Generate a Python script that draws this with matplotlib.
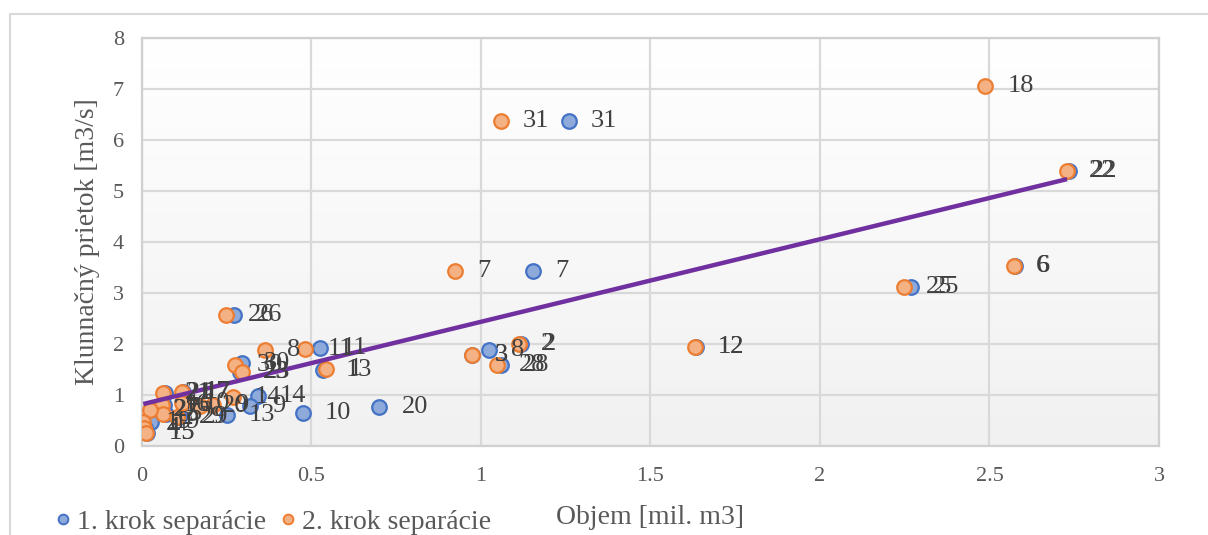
import numpy as np
import matplotlib.pyplot as plt
from matplotlib.colors import LinearSegmentedColormap
from matplotlib.lines import Line2D
from matplotlib.patches import Rectangle

plt.rcParams['font.family'] = ['Liberation Serif', 'DejaVu Serif']

# event ids and peak flows, volumes from the two separation steps
lab1 = ['26', '31', '7', '22', '6', '25', '12', '2', '28', '3', '8', '11', '13',
        '30', '23', '14', '9', '13', '10', '20', '21', '17', '16', '5', '29', '27',
        '19', '4', '15']
vol1 = [0.271, 1.259, 1.153, 2.735, 2.575, 2.268, 1.633, 1.118, 1.058, 0.974,
        1.024, 0.524, 0.535, 0.294, 0.290, 0.341, 0.318, 0.250, 0.474, 0.700, 0.068,
        0.120, 0.065, 0.070, 0.110, 0.030, 0.028, 0.008, 0.014]
q1 = [2.57, 6.37, 3.43, 5.39, 3.53, 3.12, 1.94, 2.00, 1.59, 1.78, 1.88, 1.92,
      1.48, 1.63, 1.45, 0.98, 0.79, 0.61, 0.65, 0.76, 1.04, 1.06, 0.80, 0.62, 0.57,
      0.71, 0.47, 0.35, 0.26]

lab2 = ['26', '31', '7', '18', '22', '6', '25', '12', '2', '28', '3', '8', '11', '1',
        '30', '23', '14', '9', '21', '17', '16', '5', '10', '29', '20', '27', '19',
        '4', '15']
vol2 = [0.247, 1.059, 0.924, 2.488, 2.729, 2.571, 2.247, 1.632, 1.112, 1.047, 0.974,
        0.362, 0.482, 0.544, 0.274, 0.294, 0.268, 0.209, 0.062, 0.118, 0.059, 0.062,
        0.118, 0.103, 0.170, 0.025, 0.004, 0.006, 0.012]
q2 = [2.57, 6.37, 3.43, 7.06, 5.39, 3.53, 3.12, 1.94, 2.00, 1.59, 1.78, 1.88, 1.90,
      1.51, 1.59, 1.45, 0.96, 0.80, 1.04, 1.06, 0.80, 0.62, 0.84, 0.57, 0.78, 0.71,
      0.47, 0.35, 0.26]

fig = plt.figure(figsize=(12.08, 5.35), dpi=100)
ax = fig.add_axes([0.1175, 0.1664, 0.8419, 0.7626])

# plot area: white at the top fading to light gray
grad = np.linspace(1, 0, 256).reshape(-1, 1)
cm = LinearSegmentedColormap.from_list('bg', ['#f1f1f1', '#ffffff'])
ax.imshow(grad, extent=[0, 1, 0, 1], transform=ax.transAxes, aspect='auto',
          cmap=cm, zorder=0)

ax.set_xlim(0, 3)
ax.set_ylim(0, 8)
ax.set_xticks(np.arange(0, 3.01, 0.5))
ax.set_xticklabels(['0', '0.5', '1', '1.5', '2', '2.5', '3'])
ax.set_yticks(range(0, 9))
ax.grid(True, color='#d9d9d9', lw=1.6)
ax.set_axisbelow(True)
for s in ax.spines.values():
    s.set_color('#d0d0d0')
    s.set_linewidth(1.6)
ax.tick_params(length=0, labelsize=16, labelcolor='#595959')
ax.tick_params(axis='y', pad=13)
ax.tick_params(axis='x', pad=15)

ax.scatter(vol1, q1, s=110, color='#8eaadb', edgecolor='#4472c4', lw=1.6, zorder=3)
ax.scatter(vol2, q2, s=110, color='#f4b183', edgecolor='#ed7d31', lw=1.6, zorder=4)

# linear trend of the second separation step
k, b = np.polyfit(vol2, q2, 1)
xt = np.array([min(vol2), max(vol2)])
ax.plot(xt, k * xt + b, color='#7030a0', lw=3.2, zorder=5, solid_capstyle='butt')

for x, y, t in list(zip(vol1, q1, lab1)) + list(zip(vol2, q2, lab2)):
    ax.annotate(t, (x, y), xytext=(16, 0), textcoords='offset points',
                ha='left', va='center', fontsize=19, color='#404040', zorder=6)

ax.set_xlabel('Objem [mil. m3]', fontsize=20, color='#595959')
ax.set_ylabel('Klunnačný prietok [m3/s]', fontsize=20, color='#595959')
ax.xaxis.set_label_coords(0.4995, -0.145)
ax.yaxis.set_label_coords(-0.041, 0.5)

# chart area frame
fig.patches.append(Rectangle((10 / 1208, -0.1), 1.2, 1.1 - 14 / 535,
                             transform=fig.transFigure, fill=False,
                             edgecolor='#d9d9d9', lw=1.5))

handles = [Line2D([], [], marker='o', ls='', ms=7, mfc='#8eaadb', mec='#4472c4', mew=1.4),
           Line2D([], [], marker='o', ls='', ms=7, mfc='#f4b183', mec='#ed7d31', mew=1.4)]
fig.legend(handles, ['1. krok separácie', '2. krok separácie'], loc='center left',
           bbox_to_anchor=(0.043, 0.024), ncol=2, frameon=False, fontsize=20,
           handlelength=0.8, handletextpad=0.1, columnspacing=0.4,
           borderpad=0, borderaxespad=0, labelcolor='#595959')

fig.savefig('out.png', dpi=100)
